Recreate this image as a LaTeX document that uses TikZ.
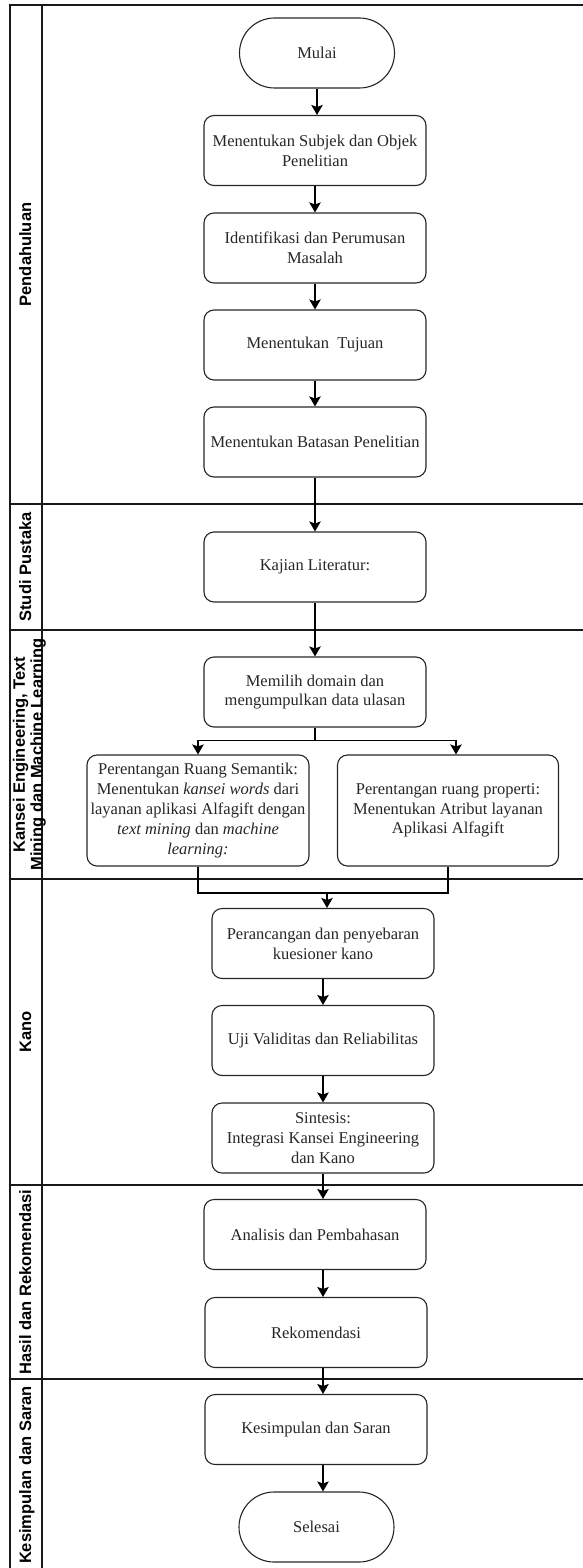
\documentclass[tikz,border=0pt]{standalone}
\usepackage{fontspec}
\setmainfont{Liberation Serif}
\newfontfamily\lanefont{Liberation Sans}
\usetikzlibrary{arrows.meta,calc}

\begin{document}
\begin{tikzpicture}[x=1pt,y=-1pt,
  box/.style={draw=black!85, line width=1.1pt, rounded corners=10pt,
    minimum width=222pt, minimum height=70pt, inner sep=0pt,
    align=center, text=black!85, font=\fontsize{16.5}{19.8}\selectfont},
  term/.style={box, minimum width=155pt, rounded corners=35pt},
  arr/.style={draw=black, line width=1.2pt,
    -{Stealth[length=10pt,width=11.5pt,inset=2pt]}},
  link/.style={draw=black, line width=1.2pt},
  lane/.style={draw=black!90, line width=1.4pt},
  lanelabel/.style={rotate=90, inner sep=0pt, align=center,
    font=\lanefont\bfseries\fontsize{16.5}{17.5}\selectfont}
]
\useasboundingbox (0,0) rectangle (583,1568);

% swimlane frame
\draw[lane] (583,5) -- (10,5) -- (10,1568);
\draw[lane] (42,5) -- (42,1568);
\foreach \yy in {504,630,879,1185,1379}
  \draw[lane] (10,\yy) -- (583,\yy);

% lane titles
\node[lanelabel, anchor=base] (lpend) at (31,254.5) {Pendahuluan};
\node[lanelabel, anchor=base] (lstudi) at (31,567) {Studi Pustaka};
\node[lanelabel] (lkansei) at (29.5,754.5) {Kansei Engineering, Text\\Mining dan Machine Learning};
\node[lanelabel, anchor=base] (lkano) at (31,1032) {Kano};
\node[lanelabel, anchor=base] (lhasil) at (31,1282) {Hasil dan Rekomendasi};
\node[lanelabel, anchor=base] (lkes) at (31,1475) {Kesimpulan dan Saran};

% process steps
\node[term] (start) at (317,53) {Mulai};
\node[box] (b1) at (315,150.5) {Menentukan Subjek dan Objek\\Penelitian};
\node[box] (b2) at (315,248) {Identifikasi dan Perumusan\\Masalah};
\node[box] (b3) at (315,345) {Menentukan\ \ Tujuan};
\node[box] (b4) at (315,442) {Menentukan Batasan Penelitian};
\node[box] (b5) at (315,567) {Kajian Literatur:};
\node[box] (b6) at (315,692) {Memilih domain dan\\mengumpulkan data ulasan};
\node[box, minimum height=111pt] (sem) at (198,810.5)
  {Perentangan Ruang Semantik:\\Menentukan \textit{kansei words} dari\\layanan aplikasi Alfagift dengan\\\textit{text mining} dan \textit{machine}\\\textit{learning:}};
\node[box, minimum width=221pt, minimum height=111pt] (prop) at (448,810.5)
  {Perentangan ruang properti:\\Menentukan Atribut layanan\\Aplikasi Alfagift};
\node[box] (b7) at (323,943.5) {Perancangan dan penyebaran\\kuesioner kano};
\node[box] (b8) at (323,1040.5) {Uji Validitas dan Reliabilitas};
\node[box] (b9) at (323,1138) {Sintesis:\\Integrasi Kansei Engineering\\dan Kano};
\node[box] (b10) at (315,1234.5) {Analisis dan Pembahasan};
\node[box] (b11) at (316,1332.5) {Rekomendasi};
\node[box] (b12) at (316,1429.5) {Kesimpulan dan Saran};
\node[term] (stop) at (316.5,1527) {Selesai};

% connectors
\draw[arr] (start.south) -- (start.south |- b1.north);
\draw[arr] (b1.south) -- (b1.south |- b2.north);
\draw[arr] (b2.south) -- (b2.south |- b3.north);
\draw[arr] (b3.south) -- (b3.south |- b4.north);
\draw[arr] (b4.south) -- (b4.south |- b5.north);
\draw[arr] (b5.south) -- (b5.south |- b6.north);

\coordinate (split) at ($(b6.south)+(0,13)$);
\draw[link] (b6.south) -- (split);
\draw[arr] (split) -| (sem.north);
\draw[arr] (split) -| ([xshift=8pt]prop.north);

\coordinate (merge) at (327,893);
\draw[link] (sem.south) |- (merge) -| (prop.south);
\draw[arr] (merge) -- (merge |- b7.north);

\draw[arr] (b7.south) -- (b7.south |- b8.north);
\draw[arr] (b8.south) -- (b8.south |- b9.north);
\draw[arr] (b9.south) -- (b9.south |- b10.north);
\draw[arr] ([xshift=8pt]b10.south) -- ([xshift=8pt]b10.south |- b11.north);
\draw[arr] ([xshift=7pt]b11.south) -- ([xshift=7pt]b11.south |- b12.north);
\draw[arr] ([xshift=7pt]b12.south) -- ([xshift=7pt]b12.south |- stop.north);
\end{tikzpicture}
\end{document}
